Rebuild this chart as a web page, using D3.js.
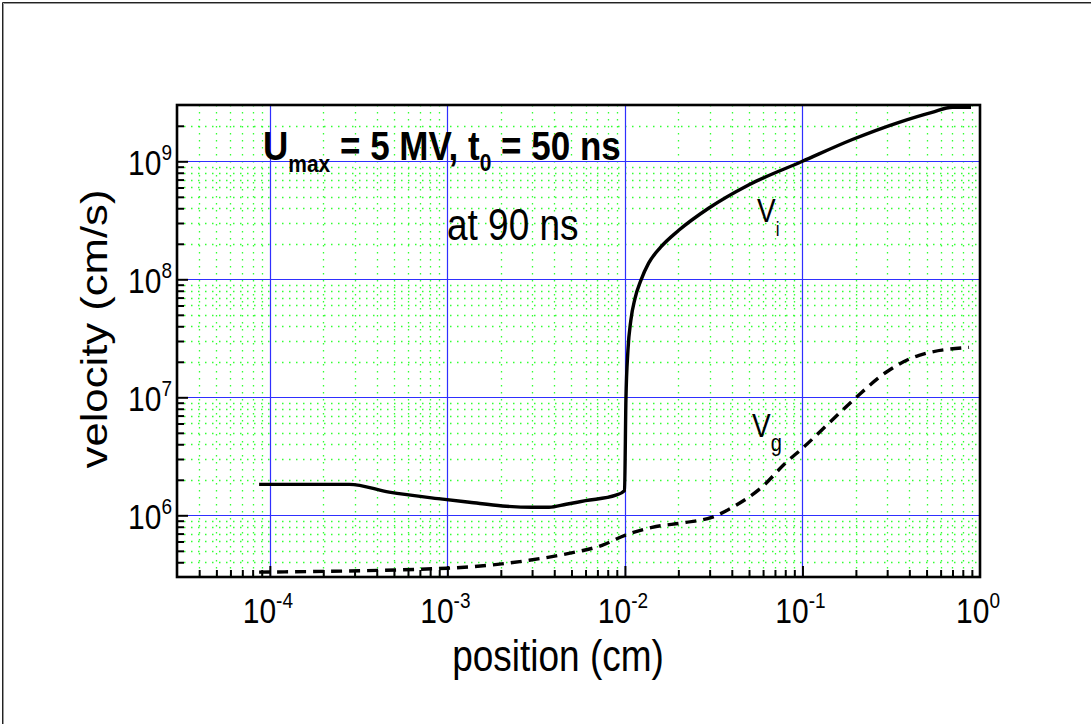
<!DOCTYPE html>
<html><head><meta charset="utf-8">
<script src="https://cdn.jsdelivr.net/npm/d3@7"></script>
<style>
html,body{margin:0;padding:0;background:#fff;}
svg{display:block;}
text{font-family:"Liberation Sans",Arial,sans-serif;fill:#000;}
</style></head>
<body>
<svg id="chart" width="1091" height="724"></svg>
<script>
// ---- data ----
const xMajorTicks = [1e-4, 1e-3, 1e-2, 1e-1, 1];
const xTickExponents = ["-4", "-3", "-2", "-1", "0"];
const yMajorTicks = [1e6, 1e7, 1e8, 1e9];
const yTickExponents = ["6", "7", "8", "9"];

const viX = [8.7e-5, 2.8e-4, 4.7e-4, 9.4e-4, 1.33e-3, 2.04e-3, 3.0e-3, 3.74e-3, 4.67e-3, 6.0e-3, 8.9e-3, 9.95e-3, 1.013e-2, 1.04e-2, 1.08e-2, 1.14e-2, 1.23e-2, 1.36e-2, 1.59e-2, 2.01e-2, 2.96e-2, 4.97e-2, 0.1, 0.191, 0.35, 0.537, 0.70, 0.89];
const viY = [1.83e6, 1.83e6, 1.57e6, 1.37e6, 1.29e6, 1.20e6, 1.17e6, 1.17e6, 1.24e6, 1.33e6, 1.48e6, 1.62e6, 9.4e6, 2.5e7, 4.5e7, 6.9e7, 9.8e7, 1.37e8, 1.87e8, 2.6e8, 4.0e8, 6.3e8, 1.0e9, 1.53e9, 2.14e9, 2.6e9, 2.87e9, 2.87e9];

const vgX = [8.7e-5, 1e-3, 2.89e-3, 4.84e-3, 7.43e-3, 1e-2, 1.42e-2, 2.2e-2, 3.08e-2, 4.2e-2, 5.9e-2, 8.0e-2, 0.1, 0.142, 0.201, 0.296, 0.454, 0.867];
const vgY = [3.3e5, 3.56e5, 4.16e5, 4.76e5, 5.57e5, 6.77e5, 7.9e5, 8.7e5, 9.6e5, 1.21e6, 1.73e6, 2.76e6, 3.7e6, 6.1e6, 1.0e7, 1.63e7, 2.27e7, 2.65e7];

const xLabel = "position (cm)";
const yLabel = "velocity (cm/s)";

// ---- layout ----
const svg = d3.select("#chart");
const L = 177, R = 980, T = 105, B = 577;
const SY = 1.18; // vertical stretch of text seen in the reference

const x = d3.scaleLog().domain([3e-5, 1]).range([L, R]);
const y = d3.scaleLog().domain([3e5, 3e9]).range([B, T]);

function minorTicks(scale) {
  const [a, b] = scale.domain();
  const out = [];
  for (let e = Math.floor(Math.log10(a)); e <= Math.ceil(Math.log10(b)); e++) {
    for (let k = 2; k <= 9; k++) {
      const v = k * Math.pow(10, e);
      if (v > a * 1.0001 && v < b * 0.9999) out.push(v);
    }
  }
  return out;
}
const xMinor = minorTicks(x), yMinor = minorTicks(y);

// outer frame (partially visible)
svg.append("line").attr("x1", 2.5).attr("x2", 1091).attr("y1", 2.5).attr("y2", 2.5).attr("stroke", "#222").attr("stroke-width", 1);
svg.append("line").attr("x1", 2.5).attr("x2", 2.5).attr("y1", 2.5).attr("y2", 724).attr("stroke", "#222").attr("stroke-width", 1);
svg.append("line").attr("x1", 3.5).attr("x2", 1091).attr("y1", 3.5).attr("y2", 3.5).attr("stroke", "#999").attr("stroke-width", 1);
svg.append("line").attr("x1", 3.5).attr("x2", 3.5).attr("y1", 3.5).attr("y2", 724).attr("stroke", "#999").attr("stroke-width", 1);

// minor grid (green dotted)
const grid = svg.append("g");
grid.selectAll(".gmx").data(xMinor).join("line")
  .attr("x1", d => Math.round(x(d)) + 0.5).attr("x2", d => Math.round(x(d)) + 0.5)
  .attr("y1", T).attr("y2", B)
  .attr("stroke", "#33ff33").attr("stroke-width", 1.3).attr("stroke-dasharray", "1.5,5.5");
grid.selectAll(".gmy").data(yMinor).join("line")
  .attr("y1", d => Math.round(y(d)) + 0.5).attr("y2", d => Math.round(y(d)) + 0.5)
  .attr("x1", L).attr("x2", R)
  .attr("stroke", "#33ff33").attr("stroke-width", 1.3).attr("stroke-dasharray", "1.5,5.5");
// major grid (blue)
grid.selectAll(".gMx").data(xMajorTicks.filter(v => v < 1)).join("line")
  .attr("x1", d => Math.round(x(d)) + 0.5).attr("x2", d => Math.round(x(d)) + 0.5)
  .attr("y1", T).attr("y2", B)
  .attr("stroke", "#2f2fff").attr("stroke-width", 1.2);
grid.selectAll(".gMy").data(yMajorTicks).join("line")
  .attr("y1", d => Math.round(y(d)) + 0.5).attr("y2", d => Math.round(y(d)) + 0.5)
  .attr("x1", L).attr("x2", R)
  .attr("stroke", "#2f2fff").attr("stroke-width", 1.2);

// curves
const line = d3.line().x(d => x(d[0])).y(d => y(d[1])).curve(d3.curveMonotoneX);
svg.append("path").datum(viX.map((v, i) => [v, viY[i]]))
  .attr("d", line).attr("fill", "none").attr("stroke", "#000").attr("stroke-width", 3.4)
  .attr("stroke-linejoin", "round");
svg.append("path").datum(vgX.map((v, i) => [v, vgY[i]]))
  .attr("d", line).attr("fill", "none").attr("stroke", "#000").attr("stroke-width", 3.4)
  .attr("stroke-dasharray", "11,7");

// axes: inward ticks on left and bottom
function styleAxis(g) {
  g.select(".domain").remove();
  g.selectAll("line").attr("stroke", "#000").attr("stroke-width", 2);
}
svg.append("g").attr("transform", `translate(${L},0)`)
  .call(d3.axisLeft(y).tickValues(yMinor).tickSize(-7).tickFormat("")).call(styleAxis);
svg.append("g").attr("transform", `translate(${L},0)`)
  .call(d3.axisLeft(y).tickValues(yMajorTicks).tickSize(-11).tickFormat("")).call(styleAxis);
svg.append("g").attr("transform", `translate(0,${B})`)
  .call(d3.axisBottom(x).tickValues(xMinor).tickSize(-7).tickFormat("")).call(styleAxis);
svg.append("g").attr("transform", `translate(0,${B})`)
  .call(d3.axisBottom(x).tickValues(xMajorTicks.filter(v => v < 1)).tickSize(-11).tickFormat("")).call(styleAxis);

// plot frame
svg.append("rect").attr("x", L).attr("y", T).attr("width", R - L).attr("height", B - T)
  .attr("fill", "none").attr("stroke", "#000").attr("stroke-width", 2.6);

// stretched text helper
function stext(px, py, anchor) {
  return svg.append("g").attr("transform", `translate(${px},${py}) scale(1,${SY})`)
    .append("text").attr("text-anchor", anchor);
}

// tick labels
const FS = 30;
xMajorTicks.forEach((v, i) => {
  const t = stext(x(v) - 2, 623, "middle").attr("font-size", FS);
  t.append("tspan").text("10");
  t.append("tspan").attr("font-size", 19).attr("dy", -13).text(xTickExponents[i]);
});
yMajorTicks.forEach((v, i) => {
  const t = stext(172, y(v) + 14, "end").attr("font-size", FS);
  t.append("tspan").text("10");
  t.append("tspan").attr("font-size", 19).attr("dy", -13).text(yTickExponents[i]);
});

// axis titles
stext(558, 671, "middle").attr("font-size", 37).text(xLabel);
svg.append("g").attr("transform", `translate(107,329) scale(1,${SY}) rotate(-90)`)
  .append("text").attr("text-anchor", "middle").attr("font-size", 37)
  .text(yLabel);

// annotations
const ann = stext(263, 160, "start").attr("font-size", 35).attr("font-weight", "bold");
ann.append("tspan").text("U");
ann.append("tspan").attr("font-size", 21).attr("dy", 10).text("max");
ann.append("tspan").attr("dy", -10).text(" = 5 MV, t");
ann.append("tspan").attr("font-size", 21).attr("dy", 9).text("0");
ann.append("tspan").attr("dy", -9).text(" = 50 ns");

stext(447, 240, "start").attr("font-size", 37).text("at 90 ns");

const vi = stext(757, 222, "start").attr("font-size", 28);
vi.append("tspan").text("V");
vi.append("tspan").attr("font-size", 17).attr("dy", 12).text("i");
const vg = stext(752, 437, "start").attr("font-size", 28);
vg.append("tspan").text("V");
vg.append("tspan").attr("font-size", 20).attr("dy", 12).text("g");
</script>
</body></html>
